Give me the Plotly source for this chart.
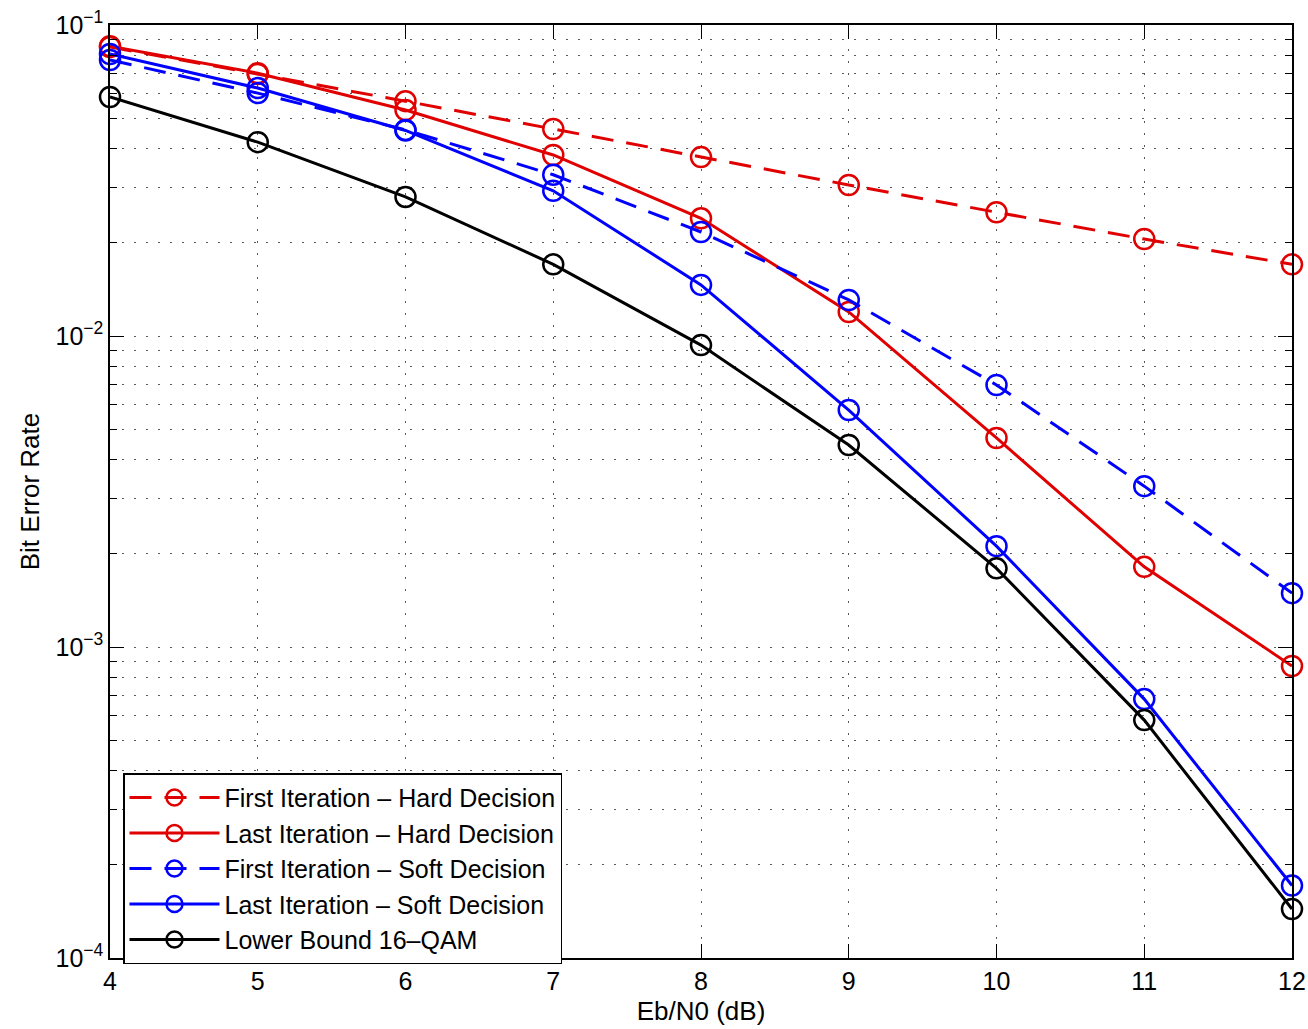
import plotly.graph_objects as go

ebn0 = [4, 5, 6, 7, 8, 9, 10, 11, 12]
first_hard = [0.0850, 0.0696, 0.0569, 0.0463, 0.0376, 0.0306, 0.0250, 0.0205, 0.0170]
last_hard = [0.0855, 0.0700, 0.0533, 0.0382, 0.0239, 0.01195, 0.00470, 0.00181, 0.000869]
first_soft = [0.0772, 0.0604, 0.0460, 0.0330, 0.0216, 0.01306, 0.00696, 0.00329, 0.00149]
last_soft = [0.0807, 0.0627, 0.0458, 0.0293, 0.0146, 0.00578, 0.00211, 0.00068, 0.000171]
lower_bound = [0.0587, 0.0420, 0.0280, 0.0170, 0.00935, 0.00446, 0.00179, 0.000582, 0.0001437]

y_major_ticks = [1e-4, 1e-3, 1e-2, 1e-1]
y_major_text = ["10<sup>\u22124</sup>", "10<sup>\u22123</sup>", "10<sup>\u22122</sup>", "10<sup>\u22121</sup>"]
y_minor_ticks = [m * 10.0 ** e for e in (-4, -3, -2) for m in range(2, 10)]

series = [
    ("First Iteration \u2013 Hard Decision", first_hard, "#e00000", "22px,13px"),
    ("Last Iteration \u2013 Hard Decision", last_hard, "#e00000", "solid"),
    ("First Iteration \u2013 Soft Decision", first_soft, "#0000ff", "22px,13px"),
    ("Last Iteration \u2013 Soft Decision", last_soft, "#0000ff", "solid"),
    ("Lower Bound 16\u2013QAM", lower_bound, "#000000", "solid"),
]

fig = go.Figure()
for name, vals, color, dash in series:
    fig.add_trace(go.Scatter(
        x=ebn0, y=vals, name=name, mode="lines+markers", cliponaxis=False,
        line=dict(color=color, width=3, dash=dash),
        marker=dict(symbol="circle-open", size=20, color=color, line=dict(width=2.5, color=color)),
    ))

fam = "Liberation Sans, Arial, Helvetica, sans-serif"
font = dict(family=fam, size=25, color="black")
grid = dict(showgrid=True, gridcolor="rgba(0,0,0,0.65)", griddash="2px,10px", gridwidth=1)
fig.update_layout(
    width=1308, height=1029,
    margin=dict(l=110, r=16, t=25, b=71),
    paper_bgcolor="white", plot_bgcolor="white",
    font=font,
    showlegend=True,
    legend=dict(
        x=0.011, y=0.198, xanchor="left", yanchor="top",
        bgcolor="white", bordercolor="black", borderwidth=1.5,
        font=dict(family=fam, size=25, color="black"),
        itemwidth=90, tracegroupgap=0,
    ),
)
fig.update_xaxes(
    range=[4, 12], dtick=1, tick0=4, automargin=False, ticklabeloverflow="allow",
    showline=True, linecolor="black", linewidth=1.5, mirror="ticks",
    ticks="inside", ticklen=14, tickwidth=1.2, tickcolor="black",
    tickfont=font, zeroline=False, **grid,
    title=dict(text="Eb/N0 (dB)", standoff=8, font=dict(family=fam, size=26, color="black")),
)
fig.update_yaxes(
    type="log", range=[-4, -1], automargin=False, ticklabeloverflow="allow",
    tickmode="array", tickvals=y_major_ticks, ticktext=y_major_text,
    showline=True, linecolor="black", linewidth=1.5, mirror="ticks",
    ticks="inside", ticklen=14, tickwidth=1.2, tickcolor="black",
    tickfont=font, zeroline=False, **grid,
    minor=dict(tickmode="array", tickvals=y_minor_ticks, ticks="inside", ticklen=7,
               tickcolor="black", tickwidth=1, **grid),
    title=dict(text="Bit Error Rate", standoff=8, font=dict(family=fam, size=26, color="black")),
)

fig.write_html(
    "out.html",
    config={"displayModeBar": False},
    post_script="document.body.style.margin='0';document.body.style.overflow='hidden';",
)
